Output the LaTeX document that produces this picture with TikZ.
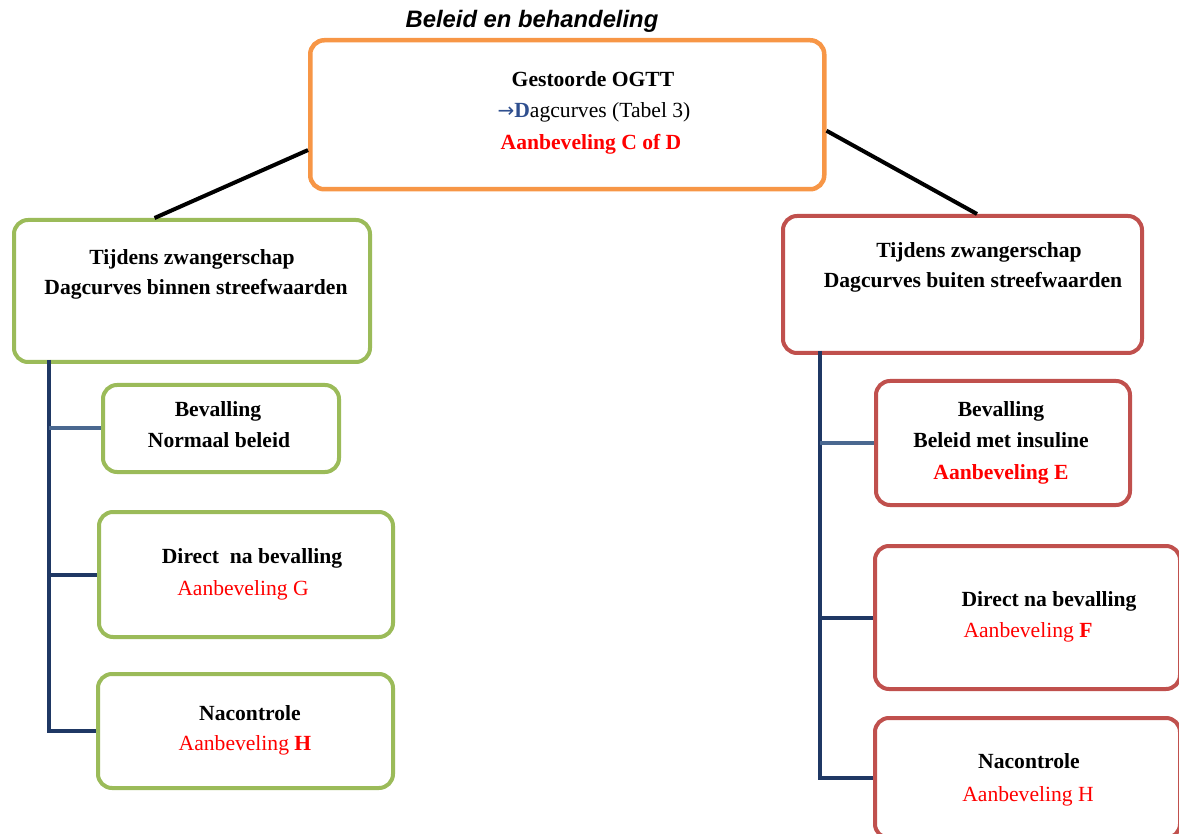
\documentclass[tikz,border=0pt]{standalone}
\usepackage{fontspec}
\setmainfont{Liberation Serif}
\newfontfamily\titlefont{Liberation Sans}
\newfontfamily\arrowfont{DejaVu Sans}
\usetikzlibrary{calc}
\definecolor{obox}{HTML}{F79646}
\definecolor{gbox}{HTML}{9BBB59}
\definecolor{rbox}{HTML}{C0504D}
\definecolor{navy}{HTML}{1F3864}
\definecolor{slate}{HTML}{4A6890}
\definecolor{arrblue}{HTML}{2F4F8F}
\definecolor{redtxt}{HTML}{FF0000}
\begin{document}
\begin{tikzpicture}[x=1pt,y=-1pt,
  boxbase/.style={draw, rounded corners=14pt, line width=4pt, fill=white, inner sep=0pt, anchor=north west},
  orangebox/.style={boxbase, draw=obox, line width=4.5pt},
  greenbox/.style={boxbase, draw=gbox},
  redbox/.style={boxbase, draw=rbox},
  txt/.style={anchor=base, inner sep=0pt, font=\fontsize{21.6}{30}\selectfont\bfseries},
  rtxt/.style={anchor=base, inner sep=0pt, text=redtxt, font=\fontsize{21.6}{30}\selectfont},
  blackline/.style={line width=4pt},
  trunk/.style={draw=navy, line width=4pt},
  branch/.style={draw=navy, line width=4pt}
]
\useasboundingbox (0,0) rectangle (1179,834);
% title
\node[anchor=base, inner sep=0pt, font=\titlefont\fontsize{23.8}{28}\selectfont\bfseries\itshape] (title) at (532,28) {Beleid en behandeling};
% boxes
\node[orangebox, minimum width=514pt, minimum height=149pt] (top) at (308,38) {};
\node[greenbox, minimum width=356pt, minimum height=142pt] (lmid) at (12,218) {};
\node[redbox, minimum width=359pt, minimum height=137pt] (rmid) at (781,214) {};
\node[greenbox, minimum width=236pt, minimum height=87pt] (lbev) at (101,383) {};
\node[greenbox, minimum width=294pt, minimum height=125pt] (ldir) at (97,510) {};
\node[greenbox, minimum width=295pt, minimum height=114pt] (lnac) at (96,672) {};
\node[redbox, minimum width=254pt, minimum height=124pt] (rbev) at (874,379) {};
\node[redbox, minimum width=305pt, minimum height=143pt] (rdir) at (873,544) {};
\node[redbox, minimum width=305pt, minimum height=120pt] (rnac) at (873,716) {};
% black connectors
\draw[blackline] ($(top.north west)!0.73!(top.south west)$) -- ($(lmid.north west)!0.396!(lmid.north east)$);
\draw[blackline] ($(top.north east)!0.604!(top.south east)$) -- ($(rmid.north west)!0.54!(rmid.north east)$);
% navy trees
\coordinate (ltrunk) at (49,360);
\coordinate (rtrunk) at (820,351);
\draw[trunk] (ltrunk) |- (lnac.west);
\draw[branch, draw=slate] (ltrunk |- lbev.west) -- (lbev.west);
\draw[branch] (ltrunk |- ldir.west) -- (ldir.west);
\draw[trunk] (rtrunk) |- (rnac.west);
\draw[branch, draw=slate] (rtrunk |- rbev.west) -- (rbev.west);
\draw[branch] (rtrunk |- rdir.west) -- (rdir.west);
% texts: top
\node[txt] (t1) at (593,87) {Gestoorde OGTT};
\node[anchor=base, inner sep=0pt, font=\fontsize{21.6}{30}\selectfont] (t2) at (594,118) {\textcolor{arrblue}{{\arrowfont\fontsize{20}{30}\selectfont →}\textbf{D}}agcurves (Tabel 3)};
\node[rtxt, font=\fontsize{21.6}{30}\selectfont\bfseries] (t3) at (591,150) {Aanbeveling C of D};
% left mid
\node[txt] (lm1) at (192,265) {Tijdens zwangerschap};
\node[txt] (lm2) at (196,295) {Dagcurves binnen streefwaarden};
% right mid
\node[txt] (rm1) at (979,258) {Tijdens zwangerschap};
\node[txt] (rm2) at (973,288) {Dagcurves buiten streefwaarden};
% left children
\node[txt] (lb1) at (218,417) {Bevalling};
\node[txt] (lb2) at (219,448) {Normaal beleid};
\node[txt] (ld1) at (252,563) {Direct~ na bevalling};
\node[rtxt] (ld2) at (243,595) {Aanbeveling G};
\node[txt] (ln1) at (250,720) {Nacontrole};
\node[rtxt] (ln2) at (245,750) {Aanbeveling \textbf{H}};
% right children
\node[txt] (rb1) at (1001,417) {Bevalling};
\node[txt] (rb2) at (1001,447) {Beleid met insuline};
\node[rtxt, font=\fontsize{21.6}{30}\selectfont\bfseries] (rb3) at (1001,479) {Aanbeveling E};
\node[txt] (rd1) at (1049,606) {Direct na bevalling};
\node[rtxt] (rd2) at (1028,637) {Aanbeveling \textbf{F}};
\node[txt] (rn1) at (1029,768) {Nacontrole};
\node[rtxt] (rn2) at (1028,801) {Aanbeveling H};
\end{tikzpicture}
\end{document}
